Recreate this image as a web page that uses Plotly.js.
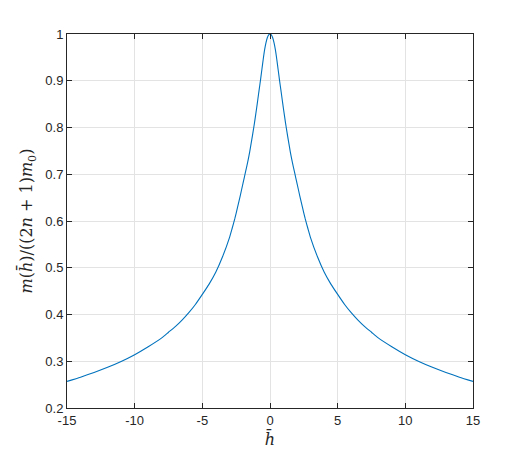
<!DOCTYPE html>
<html>
<head>
<meta charset="utf-8">
<script src="https://cdn.plot.ly/plotly-3.0.1.min.js"></script>
<style>html,body{margin:0;padding:0;background:#fff;}#chart{width:523px;height:458px;}</style>
</head>
<body>
<div id="chart"></div>
<script>
// read-off values for h >= 0 (curve is symmetric about h = 0)
const hPos = [0, 0.1, 0.2, 0.3, 0.4, 0.5, 0.6, 0.7, 0.8, 0.9, 1.0, 1.1, 1.2, 1.3, 1.4, 1.5, 1.6, 1.7, 1.8, 1.9, 2.0,
              2.2, 2.4, 2.6, 2.8, 3.0, 3.5, 4.0, 4.5, 5.0, 5.5, 6.0, 6.5, 7.0, 7.5, 8.0, 9.0, 10, 11, 12, 13, 14, 15];
const mPos = [1.000, 0.998, 0.992, 0.981, 0.966, 0.946, 0.924, 0.902, 0.881, 0.860, 0.839, 0.819, 0.800, 0.782, 0.765, 0.748, 0.733, 0.719, 0.706, 0.693, 0.680,
              0.654, 0.629, 0.605, 0.584, 0.564, 0.524, 0.491, 0.465, 0.443, 0.422, 0.404, 0.388, 0.374, 0.362, 0.350, 0.331, 0.314, 0.2995, 0.287, 0.276, 0.266, 0.257];
const xTickVals = [-15, -10, -5, 0, 5, 10, 15];
const xTickText = ['-15', '-10', '-5', '0', '5', '10', '15'];
const yTickVals = [0.2, 0.3, 0.4, 0.5, 0.6, 0.7, 0.8, 0.9, 1];
const yTickText = ['0.2', '0.3', '0.4', '0.5', '0.6', '0.7', '0.8', '0.9', '1'];

const hAll = [], mAll = [];
for (let i = hPos.length - 1; i > 0; i--) { hAll.push(-hPos[i]); mAll.push(mPos[i]); }
for (let i = 0; i < hPos.length; i++) { hAll.push(hPos[i]); mAll.push(mPos[i]); }

const axCol = '#262626';
const gridCol = '#e3e3e3';
const tickFont = {family: 'Liberation Sans, Arial, sans-serif', size: 13, color: axCol};
const titleFont = {family: 'DejaVu Serif, Liberation Serif, serif', size: 16, color: axCol};

const trace = {
  x: hAll, y: mAll, type: 'scatter', mode: 'lines',
  line: {color: '#0072BD', width: 1.1, shape: 'spline', smoothing: 0.5},
  hoverinfo: 'skip'
};

const layout = {
  width: 523, height: 458,
  margin: {l: 67, r: 50, t: 34, b: 50, pad: 0},
  paper_bgcolor: '#ffffff', plot_bgcolor: '#ffffff',
  showlegend: false,
  xaxis: {
    range: [-15, 15], tickvals: xTickVals, ticktext: xTickText,
    ticks: 'inside', ticklen: 5, tickcolor: axCol, tickwidth: 1,
    showline: true, linecolor: axCol, linewidth: 1, mirror: 'ticks',
    showgrid: true, gridcolor: gridCol, gridwidth: 1, zeroline: false,
    tickfont: tickFont,
    title: {text: '<i>h\u0304</i>', font: titleFont, standoff: 4}
  },
  yaxis: {
    range: [0.2, 1], tickvals: yTickVals, ticktext: yTickText,
    ticks: 'inside', ticklen: 5, tickcolor: axCol, tickwidth: 1,
    showline: true, linecolor: axCol, linewidth: 1, mirror: 'ticks',
    showgrid: true, gridcolor: gridCol, gridwidth: 1, zeroline: false,
    tickfont: tickFont,
    title: {text: '<i>m</i>(<i>h\u0304</i>)/((2<i>n</i> + 1)<i>m</i><sub>0</sub>)', font: titleFont, standoff: 8}
  }
};

Plotly.newPlot('chart', [trace], layout, {staticPlot: true, displayModeBar: false});
</script>
</body>
</html>
